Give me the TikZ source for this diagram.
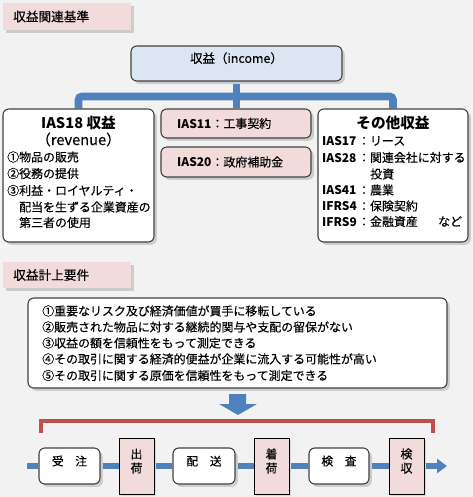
\documentclass[tikz,border=0pt]{standalone}
\usepackage{fontspec}
\setmainfont{Noto Sans CJK JP}[UprightFeatures={FakeBold=0.3}]
\usepackage{tikz}
\usetikzlibrary{arrows.meta,positioning,fit,shadows,backgrounds}
\usepackage{xcolor}
\definecolor{paper}{RGB}{242,242,242}
\definecolor{hdrpink}{RGB}{242,220,219}
\definecolor{incblue}{RGB}{220,230,242}
\definecolor{linkblue}{RGB}{79,129,189}
\definecolor{brkred}{RGB}{192,80,77}
\definecolor{frame}{RGB}{64,64,64}

\begin{document}
\begin{tikzpicture}[x=0.03cm,y=-0.03cm,
  shade/.style={drop shadow={shadow xshift=2.4pt,shadow yshift=-2.4pt,fill=black!20,opacity=1}},
  hdr/.style={fill=hdrpink,inner sep=0pt,shade},
  box/.style={draw=frame,line width=0.9pt,rounded corners=5pt,fill=white,inner sep=0pt,shade,
    font=\fontsize{10.6}{12}\selectfont},
  pinkbox/.style={box,fill=hdrpink},
  stage/.style={box,font=\fontsize{10}{12}\selectfont},
  gate/.style={draw=black,line width=0.8pt,fill=hdrpink,inner sep=0pt,align=center,
    font=\fontsize{10.2}{12}\selectfont,drop shadow={shadow xshift=1.6pt,shadow yshift=-1.6pt,fill=black!15,opacity=1}},
  txt/.style={inner sep=0pt,anchor=west,font=\fontsize{10.2}{12}\selectfont},
  ttl/.style={inner sep=0pt,font=\fontsize{12.5}{14}\selectfont\bfseries},
  bus/.style={linkblue,line width=6.6pt},
  flow/.style={linkblue,line width=5pt}]
  \useasboundingbox (0,0) rectangle (473,497);
  \begin{scope}[on background layer]
    \fill[paper] (0,0) rectangle (473,497);
  \end{scope}
  % standards
  \node[hdr,fit={(3,3)(131,30)}] (hdrA) {};
  \node[txt,font=\fontsize{10.8}{12}\selectfont] (hdrAt) at (13,16.5) {収益関連基準};
  \node[box,fill=incblue,fit={(131,46)(342,81)}] (income) {収益（income）};
  \node[box,fit={(3,109)(154,242)}] (ias18) {};
  \node[ttl] (ias18a) at (78.5,123) {IAS18 収益};
  \node[inner sep=0pt,font=\fontsize{12.5}{14}\selectfont] (ias18b) at (78.5,139.5) {（revenue）};
  \foreach \ln/\yy [count=\i] in {①物品の販売/157,②役務の提供/173.5,③利益・ロイヤルティ・/190.5,
    \hspace{1em}配当を生ずる企業資産の/207,\hspace{1em}第三者の使用/222.5}
    \node[txt] (ias18l\i) at (7,\yy) {\ln};
  \node[pinkbox,fit={(161,109)(311,138)}] (ias11) {};
  \node[txt] (ias11t) at (177,123.5) {{\bfseries IAS11}：工事契約};
  \node[pinkbox,fit={(161,147)(311,177)}] (ias20) {};
  \node[txt] (ias20t) at (177,162) {{\bfseries IAS20}：政府補助金};
  \node[box,fit={(318,109)(468,242)}] (other) {};
  \node[ttl] (othera) at (393,123) {その他収益};
  \foreach \lb/\tx/\yy [count=\i] in {IAS17/リース/141,IAS28/関連会社に対する/157.5,
    IAS41/農業/190,IFRS4/保険契約/206,IFRS9/金融資産\hspace{1.7em}など/221.5}
    \node[txt] (otherl\i) at (322,\yy) {\makebox[3em][l]{\bfseries\lb}：\tx};
  \node[txt] (otherx) at (370,174) {投資};
  % requirements
  \node[hdr,fit={(3,262)(131,288)}] (hdrB) {};
  \node[txt,font=\fontsize{10.8}{12}\selectfont] (hdrBt) at (13,275) {収益計上要件};
  \node[box,fit={(28,298)(447,388)}] (reqs) {};
  \foreach \ln/\yy [count=\i] in {①重要なリスク及び経済価値が買手に移転している/311,
    ②販売された物品に対する継続的関与や支配の留保がない/327,
    ③収益の額を信頼性をもって測定できる/343,
    ④その取引に関する経済的便益が企業に流入する可能性が高い/359,
    ⑤その取引に関する原価を信頼性をもって測定できる/375.5}
    \node[txt] (req\i) at (42,\yy) {\ln};
  \fill[linkblue] (229,394) -- (246,394) -- (246,404) -- (257,404) -- (238,415)
    -- (219,404) -- (229,404) -- cycle;
  \draw[brkred,line width=3.4pt] (41,433) -- (41,421) -- (433,421) -- (433,433);
  % process chain
  \foreach \nm/\xa/\xb/\ya/\yb/\lab/\sty in {uke/39/100/448/484/受　注/stage,
    shuka/119/154/438/494/出\\荷/gate,haiso/173/235/448/484/配　送/stage,
    chaku/254/289/438/494/着\\荷/gate,kensa/309/369/448/484/検　査/stage,
    kenshu/389/424/438/494/検\\収/gate}
    \node[\sty,fit={(\xa,\ya)(\xb,\yb)}] (\nm) {\lab};
  \coordinate (pstart) at (27,466);
  \coordinate (pend) at (447,466);
  \begin{scope}[on background layer]
    \draw[bus] (income.south) -- (income.south |- ias11.north);
    \draw[bus,rounded corners=3pt] (ias18.north) -- ++(0,-12) -| (other.north);
    \foreach \a/\b in {pstart/uke,uke/shuka,shuka/haiso,haiso/chaku,chaku/kensa,kensa/kenshu}
      \draw[flow] (\a) -- (\b);
    \draw[flow,-{Triangle[length=8.5pt,width=12pt]}] (kenshu) -- (pend);
  \end{scope}
\end{tikzpicture}
\end{document}
